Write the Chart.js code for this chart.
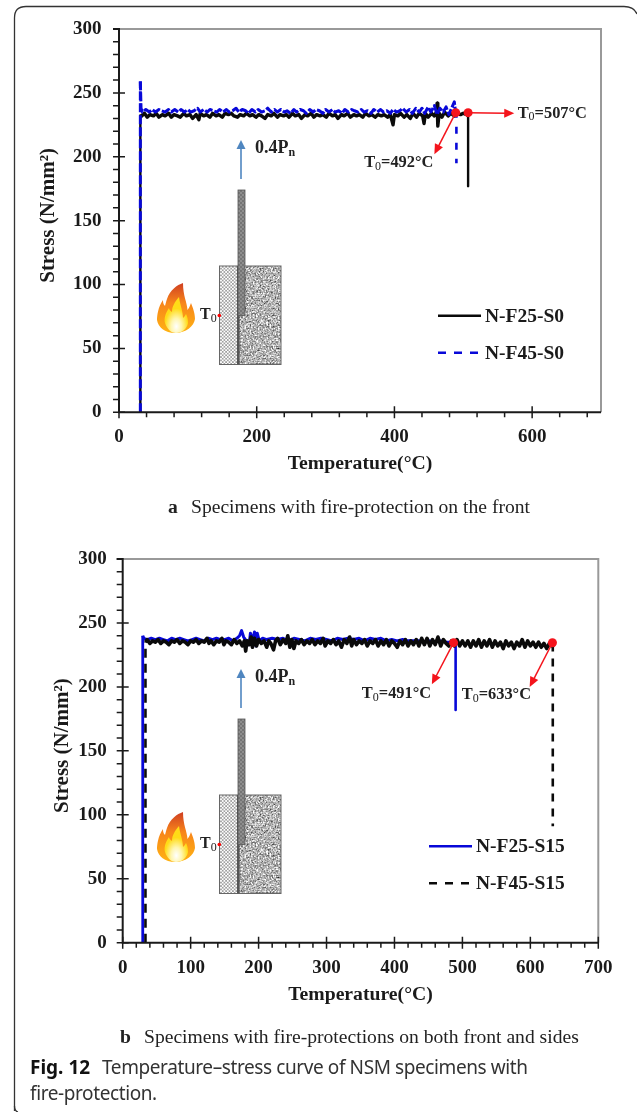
<!DOCTYPE html>
<html>
<head>
<meta charset="utf-8">
<title>Temperature-stress curve</title>
<script src="https://cdn.jsdelivr.net/npm/chart.js@4"></script>
<style>
  html, body { margin: 0; padding: 0; background: #fff; }
  #page { position: relative; width: 637px; height: 1112px; overflow: hidden; }
  canvas { position: absolute; left: 0; }
  #chartA { top: 0; }
  #chartB { top: 530px; }
  #overlay { position: absolute; left: 0; top: 0; }
  .sub { position: absolute; font: 19.6px "Liberation Serif", serif; color: #222; white-space: nowrap; }
  .cap { position: absolute; font: 19px "Noto Sans", sans-serif; color: #333; white-space: nowrap; letter-spacing: -0.4px; }
  .cap b { color: #111; letter-spacing: 0; }
</style>
</head>
<body>
<div id="page">
  <canvas id="chartA" width="637" height="478"></canvas>
  <canvas id="chartB" width="637" height="478"></canvas>

  <svg id="overlay" width="637" height="1112" xmlns="http://www.w3.org/2000/svg">
    <defs>
      <filter id="speckle" x="0" y="0" width="100%" height="100%" color-interpolation-filters="sRGB">
        <feTurbulence type="fractalNoise" baseFrequency="0.6" numOctaves="2" seed="4"/>
        <feColorMatrix type="matrix" values="0.9 0.9 0 0 -0.2  0.9 0.9 0 0 -0.2  0.9 0.9 0 0 -0.2  0 0 0 0 1"/>
      </filter>
      <pattern id="hatch" width="3.4" height="3.4" patternUnits="userSpaceOnUse">
        <rect width="3.4" height="3.4" fill="#fff"/>
        <path d="M0 0L3.4 3.4M3.4 0L0 3.4" stroke="#999" stroke-width="0.8"/>
      </pattern>
      <pattern id="rod" width="4" height="4" patternUnits="userSpaceOnUse">
        <rect width="4" height="4" fill="#757575"/>
        <rect width="2" height="2" fill="#8e8e8e"/>
        <rect x="2" y="2" width="2" height="2" fill="#8e8e8e"/>
      </pattern>
      <linearGradient id="flameOuter" x1="0" y1="0" x2="0" y2="1">
        <stop offset="0" stop-color="#cf3f22"/>
        <stop offset="0.4" stop-color="#f7851a"/>
        <stop offset="1" stop-color="#ffb313"/>
      </linearGradient>
      <radialGradient id="flameCore" cx="0.5" cy="0.82" r="0.5">
        <stop offset="0" stop-color="#fff"/>
        <stop offset="0.45" stop-color="#fff6b0"/>
        <stop offset="1" stop-color="#ffdc17"/>
      </radialGradient>
      <g id="inset">
        <!-- load arrow -->
        <line x1="241" y1="179" x2="241" y2="146" stroke="#4f86c0" stroke-width="1.6"/>
        <path d="M241 140L245.5 149H236.5Z" fill="#4f86c0"/>
        <text x="255" y="153" font-family="Liberation Serif" font-weight="bold" font-size="18" fill="#222">0.4P<tspan font-size="12" dy="3">n</tspan></text>
        <!-- specimen -->
        <rect x="219.5" y="266" width="18" height="98.5" fill="url(#hatch)"/>
        <rect x="238" y="266" width="43" height="98.5" fill="#aaa" filter="url(#speckle)"/>
        <rect x="219.5" y="266" width="61.5" height="98.5" fill="none" stroke="#666" stroke-width="1"/>
        <rect x="237" y="266" width="2.6" height="98.5" fill="#555"/>
        <rect x="238" y="190" width="7" height="125.5" fill="url(#rod)" stroke="#555" stroke-width="0.8"/>
        <text x="200" y="319" font-family="Liberation Serif" font-weight="bold" font-size="16" fill="#222">T<tspan font-size="12" font-weight="normal" dy="3">0</tspan></text>
        <circle cx="219.3" cy="315.5" r="1.8" fill="#f00"/>
        <!-- flame -->
        <path d="M183 283C177 285 170 290 167 299C166 302 165.5 304 165 306C163 304 163 302 163 300C158 307 157 316 157 320C158 327 165 333 175 333C186 333 194 326 195 319C195 312 192 306 191 303C190 306 189 308 187.5 310C187 302 183 296 183 283Z" fill="url(#flameOuter)"/>
        <path d="M179 297C175 302 172 306 172 312C170 311 169 309 169 308C165 314 164 319 165 323C167 329 171 333 176 333C182 333 187 329 188 323C188 319 187 316 186 314C185 316 184 317 183 318C183 311 180 305 179 297Z" fill="url(#flameCore)"/>
      </g>
    </defs>
    <!-- card outline -->
    <path d="M14.5 1111V18Q14.5 6.5 26 6.5H624Q634 6.5 637 14" fill="none" stroke="#333" stroke-width="1.3"/>
    <path d="M14.5 1106Q14.5 1111 18 1112" fill="none" stroke="#333" stroke-width="1.3"/>
    <use href="#inset"/>
    <use href="#inset" y="529"/>
  </svg>

  <div class="sub" style="left:168px;top:496px"><strong>a</strong></div>
  <div class="sub" style="left:191px;top:496px">Specimens with fire-protection on the front</div>
  <div class="sub" style="left:120px;top:1026px"><strong>b</strong></div>
  <div class="sub" style="left:144px;top:1026px">Specimens with fire-protections on both front and sides</div>
  <div class="cap" style="left:30px;top:1054px"><b>Fig. 12</b></div>
  <div class="cap" style="left:102px;top:1054px">Temperature–stress curve of NSM specimens with</div>
  <div class="cap" style="left:30px;top:1080px">fire-protection.</div>
</div>

<script>
// Tick labels
const xTicksA = [0, 200, 400, 600];
const xTicksB = [0, 100, 200, 300, 400, 500, 600, 700];
const yTicks = [0, 50, 100, 150, 200, 250, 300];

// [temperature, stress]
const f25s0 = [[31,0],[31,233],[33,232],[37,234],[41,231],[45,233],[50,232],[54,234],[58,231],[63,233],[67,232],[72,234],[76,231],[80,233],[85,232],[89,231],[94,234],[98,232],[103,233],[107,230],[112,233],[116,229],[118,234],[123,232],[127,233],[132,231],[136,234],[141,232],[145,233],[150,231],[154,234],[159,233],[163,234],[167,232],[172,231],[176,233],[181,232],[185,234],[190,232],[194,233],[199,231],[203,233],[207,232],[212,230],[216,233],[221,232],[225,234],[230,231],[234,233],[239,232],[243,233],[247,231],[252,234],[256,232],[261,233],[265,230],[270,233],[274,232],[279,234],[283,231],[287,233],[292,232],[296,233],[301,231],[305,234],[310,232],[314,233],[318,230],[323,233],[327,232],[332,234],[336,231],[341,233],[345,232],[349,233],[354,231],[358,234],[363,232],[367,233],[372,231],[376,233],[381,232],[385,233],[390,231],[394,233],[398,225],[400,233],[405,232],[409,234],[414,231],[418,233],[423,230],[427,234],[432,231],[436,234],[441,232],[443,226],[445,234],[449,231],[454,234],[458,232],[461,235],[462,242],[463,224],[465,234],[469,231],[473,235],[478,232],[482,234],[487,232],[491,234],[496,233],[500,234],[505,233],[507,232],[507,177]];
const f45s0 = [[31,0],[31,259],[32,238],[34,235],[39,237],[44,235],[48,237],[53,235],[58,237],[62,236],[67,235],[72,237],[76,235],[81,237],[86,235],[90,237],[95,235],[100,237],[104,235],[109,236],[114,238],[118,235],[123,237],[128,235],[132,237],[137,236],[142,235],[146,237],[151,235],[156,237],[160,235],[165,236],[170,238],[174,235],[179,237],[184,236],[188,234],[193,237],[198,235],[202,237],[207,235],[212,236],[216,238],[221,235],[226,237],[230,235],[235,237],[240,235],[244,236],[249,234],[254,237],[258,235],[263,237],[268,236],[272,234],[277,237],[282,235],[286,237],[291,236],[296,234],[300,237],[305,235],[310,237],[314,235],[319,236],[324,234],[328,237],[333,235],[338,237],[342,236],[347,235],[352,237],[356,235],[361,236],[366,234],[370,237],[375,235],[380,237],[384,235],[389,236],[394,234],[398,237],[403,235],[408,236],[412,238],[417,235],[422,237],[426,234],[431,238],[436,235],[440,238],[444,234],[449,239],[453,235],[458,240],[462,233],[466,238],[471,235],[475,239],[479,233],[483,238],[487,243],[489,234],[490,236],[490,195]];

// [temperature, stress]
const f25s15 = [[29.5,0],[29.5,240],[31,238],[36,237],[42,238],[48,237],[54,238],[60,237],[66,236],[72,238],[78,237],[84,238],[90,237],[96,236],[102,237],[108,238],[114,237],[120,236],[126,238],[132,237],[138,238],[144,237],[150,237],[156,238],[162,236],[168,238],[172,240],[175,244],[178,239],[182,236],[186,233],[188,242],[191,236],[194,243],[196,232],[198,242],[201,236],[206,238],[212,237],[220,238],[228,237],[236,238],[244,236],[252,238],[260,237],[268,236],[276,238],[284,237],[292,238],[300,237],[308,236],[316,238],[324,237],[332,238],[340,237],[348,238],[356,236],[364,238],[372,237],[380,238],[388,236],[396,237],[404,236],[412,237],[420,236],[428,236],[436,236],[444,235],[452,236],[460,235],[468,236],[476,235],[484,235],[490,235],[490,182]];
const f45s15 = [[33.5,0],[33.5,235],[36,237],[40,234],[44,236],[48,235],[52,237],[56,234],[60,236],[64,235],[68,233],[72,236],[76,235],[80,237],[84,234],[88,236],[92,235],[96,233],[100,236],[104,235],[108,237],[112,234],[116,236],[120,235],[124,238],[127,234],[130,236],[134,233],[138,236],[142,235],[146,238],[149,233],[152,236],[156,235],[160,233],[164,237],[168,234],[172,236],[176,232],[179,236],[181,228],[183,236],[186,233],[189,239],[191,231],[194,238],[197,232],[200,237],[204,234],[208,236],[212,231],[215,236],[218,234],[222,229],[225,236],[228,238],[232,233],[236,237],[240,234],[243,240],[246,231],[249,237],[252,230],[255,236],[259,234],[263,237],[267,233],[271,236],[275,234],[279,237],[283,233],[287,236],[291,234],[295,238],[298,232],[302,236],[306,234],[310,237],[314,233],[318,236],[322,231],[326,237],[330,234],[334,239],[337,232],[340,237],[344,233],[348,236],[352,234],[356,237],[360,232],[364,236],[368,234],[372,237],[376,232],[380,236],[384,233],[388,237],[392,232],[396,236],[400,234],[404,231],[408,236],[412,233],[416,237],[420,232],[424,236],[428,233],[432,237],[436,232],[440,238],[444,233],[448,238],[452,232],[456,237],[460,233],[464,239],[468,232],[472,237],[476,234],[480,232],[484,236],[488,232],[492,237],[496,232],[500,236],[504,232],[508,236],[512,231],[516,236],[520,232],[524,237],[528,231],[532,236],[536,232],[540,237],[544,231],[548,236],[552,232],[556,235],[560,230],[564,236],[568,232],[572,235],[576,230],[580,235],[584,232],[588,237],[592,231],[596,236],[600,232],[604,235],[608,231],[612,235],[616,231],[620,234],[624,230],[628,234],[632,232],[633,234],[633,91]];

// Onset points and their annotations
const onsetA = [[489, 234.5], [507, 234.5]];
const onsetB = [[487, 234.6], [632.5, 234.5]];
const arrowsA = [[489, 234.5, 458, 202], [507, 234.5, 574, 234]];
const arrowsB = [[487, 234.6, 455, 202], [632.5, 234.5, 599, 200]];
const notesA = [[579, 234, '=507°C'], [356, 195, '=492°C']];
const notesB = [[352, 194.5, '=491°C'], [499, 193.7, '=633°C']];

const SERIF = '"Liberation Serif", serif';
const toPoints = rows => rows.map(r => ({ x: r[0], y: r[1] }));

// Axis frame, minor ticks, arrows, notes and the legend inside the plot
const decorations = {
  id: 'decorations',
  afterDatasetsDraw(chart, args, opts) {
    const { ctx, chartArea: a, scales: { x, y } } = chart;
    ctx.save();

    ctx.strokeStyle = '#999';
    ctx.lineWidth = 2;
    ctx.beginPath();
    ctx.moveTo(a.left, a.top);
    ctx.lineTo(a.right, a.top);
    ctx.lineTo(a.right, a.bottom);
    ctx.stroke();

    ctx.strokeStyle = '#1a1a1a';
    ctx.beginPath();
    ctx.moveTo(a.left - 6, a.top);
    ctx.lineTo(a.left, a.top);
    ctx.lineTo(a.left, a.bottom);
    ctx.lineTo(a.right, a.bottom);
    ctx.stroke();

    ctx.lineWidth = 1.5;
    ctx.beginPath();
    for (let v = 0; v <= x.max; v += opts.minorX) {
      const px = x.getPixelForValue(v);
      const major = x.ticks.some(t => t.value === v);
      ctx.moveTo(px, a.bottom + (major ? 6 : 5));
      ctx.lineTo(px, a.bottom - (major ? 6 : 0));
    }
    for (let v = 0; v <= y.max; v += 10) {
      const py = y.getPixelForValue(v);
      const major = v % 50 === 0;
      ctx.moveTo(a.left - 6, py);
      ctx.lineTo(a.left + (major && v < y.max ? 6 : 0), py);
    }
    ctx.stroke();

    // red arrows
    ctx.strokeStyle = ctx.fillStyle = '#f4141c';
    ctx.lineWidth = 1.5;
    opts.arrows.forEach(([x0, y0, x1, y1]) => {
      const sx = x.getPixelForValue(x0), sy = y.getPixelForValue(y0);
      const ex = x.getPixelForValue(x1), ey = y.getPixelForValue(y1);
      const ang = Math.atan2(ey - sy, ex - sx);
      ctx.beginPath();
      ctx.moveTo(sx, sy);
      ctx.lineTo(ex - 8 * Math.cos(ang), ey - 8 * Math.sin(ang));
      ctx.stroke();
      ctx.beginPath();
      ctx.moveTo(ex, ey);
      ctx.lineTo(ex - 10 * Math.cos(ang) + 4.5 * Math.sin(ang), ey - 10 * Math.sin(ang) - 4.5 * Math.cos(ang));
      ctx.lineTo(ex - 10 * Math.cos(ang) - 4.5 * Math.sin(ang), ey - 10 * Math.sin(ang) + 4.5 * Math.cos(ang));
      ctx.fill();
    });

    // T0 labels
    ctx.fillStyle = '#222';
    ctx.textBaseline = 'middle';
    ctx.textAlign = 'left';
    opts.notes.forEach(([vx, vy, text]) => {
      let px = x.getPixelForValue(vx);
      const py = y.getPixelForValue(vy);
      ctx.font = 'bold 16.4px ' + SERIF;
      ctx.fillText('T', px, py);
      px += ctx.measureText('T').width;
      ctx.font = '12px ' + SERIF;
      ctx.fillText('0', px, py + 4);
      px += ctx.measureText('0').width;
      ctx.font = 'bold 16.4px ' + SERIF;
      ctx.fillText(text, px, py);
    });

    // legend
    opts.legend.forEach((row, i) => {
      const ly = a.top + opts.legendTop + i * 37;
      ctx.strokeStyle = row.color;
      ctx.lineWidth = 2.5;
      ctx.setLineDash(row.dash);
      ctx.beginPath();
      ctx.moveTo(opts.legendLeft, ly);
      ctx.lineTo(opts.legendLeft + 43, ly);
      ctx.stroke();
      ctx.setLineDash([]);
      ctx.fillStyle = '#1a1a1a';
      ctx.font = 'bold 19.5px ' + SERIF;
      ctx.fillText(row.label, opts.legendLeft + 47, ly + 1);
    });
    ctx.restore();
  }
};

function buildChart(id, cfg) {
  return new Chart(document.getElementById(id), {
    type: 'scatter',
    data: { datasets: cfg.datasets },
    options: {
      responsive: false,
      animation: false,
      layout: { padding: { top: 29, left: 0, right: cfg.right, bottom: 0 } },
      elements: { point: { radius: 0 }, line: { tension: 0, borderJoinStyle: 'round' } },
      plugins: {
        legend: { display: false },
        tooltip: { enabled: false },
        decorations: cfg.deco
      },
      scales: {
        x: {
          type: 'linear',
          min: 0,
          max: 700,
          grid: { display: false },
          border: { display: false },
          afterBuildTicks: s => { s.ticks = cfg.xTicks.map(v => ({ value: v })); },
          afterFit: s => { s.height = cfg.xHeight; },
          ticks: { color: '#1a1a1a', padding: cfg.xTickPad, maxRotation: 0, autoSkip: false, font: { family: SERIF, size: 19, weight: 'bold' } },
          title: { display: true, text: 'Temperature(°C)', color: '#1a1a1a', padding: { top: 0, bottom: cfg.xTitlePad }, font: { family: SERIF, size: 19.7, weight: 'bold' } }
        },
        y: {
          type: 'linear',
          min: 0,
          max: 300,
          grid: { display: false },
          border: { display: false },
          afterBuildTicks: s => { s.ticks = yTicks.map(v => ({ value: v })); },
          afterFit: s => { s.width = cfg.yWidth; },
          ticks: { color: '#1a1a1a', padding: cfg.yTickPad, autoSkip: false, font: { family: SERIF, size: 19, weight: 'bold' } },
          // the leading spaces nudge the rotated title up a little, as in the figure
          title: { display: true, text: '  Stress (N/mm²)', color: '#1a1a1a', padding: { top: cfg.titleLeft, bottom: 0 }, font: { family: SERIF, size: 21, weight: 'bold' } }
        }
      }
    },
    plugins: [decorations]
  });
}

const onsetDots = rows => ({
  label: 'T0', data: toPoints(rows), showLine: false, order: 0,
  pointRadius: 4.5, pointBackgroundColor: '#f4141c', pointBorderWidth: 0
});

// A curve is the rise, the noisy plateau and the drop, each with its own stroke
function curve(label, rows, color, order, rise, plateau, drop) {
  const part = (data, s) => ({
    label, data: toPoints(data), showLine: true, order,
    borderColor: color, borderWidth: s.width, borderDash: s.dash
  });
  return [
    part(rows.slice(0, 2), rise),
    part(rows.slice(1, -1), plateau),
    part(rows.slice(-2), drop)
  ];
}

buildChart('chartA', {
  right: 36,
  xHeight: 65.7,
  yWidth: 119,
  titleLeft: 36,
  xTickPad: 5,
  yTickPad: 9.5,
  xTitlePad: 2,
  xTicks: xTicksA,
  deco: {
    minorX: 40, arrows: arrowsA, notes: notesA, legendLeft: 438, legendTop: 286.7,
    legend: [
      { label: 'N-F25-S0', color: '#0a0a0a', dash: [] },
      { label: 'N-F45-S0', color: '#0808d8', dash: [8, 8] }
    ]
  },
  datasets: [
    onsetDots(onsetA),
    ...curve('N-F25-S0', f25s0, '#0a0a0a', 2, { width: 2.4, dash: [] }, { width: 3.4, dash: [] }, { width: 2.4, dash: [] }),
    ...curve('N-F45-S0', f45s0, '#0808d8', 1, { width: 3, dash: [9, 3] }, { width: 3, dash: [9, 2] }, { width: 2.6, dash: [7, 9] })
  ]
});

buildChart('chartB', {
  right: 38.7,
  xHeight: 65.3,
  yWidth: 122.7,
  titleLeft: 50,
  xTickPad: 6,
  yTickPad: 8,
  xTitlePad: 1,
  xTicks: xTicksB,
  deco: {
    minorX: 20, arrows: arrowsB, notes: notesB, legendLeft: 429, legendTop: 287.3,
    legend: [
      { label: 'N-F25-S15', color: '#0808d8', dash: [] },
      { label: 'N-F45-S15', color: '#0a0a0a', dash: [8, 8] }
    ]
  },
  datasets: [
    onsetDots(onsetB),
    ...curve('N-F25-S15', f25s15, '#0808d8', 2, { width: 2.8, dash: [] }, { width: 3, dash: [] }, { width: 2.6, dash: [] }),
    ...curve('N-F45-S15', f45s15, '#0a0a0a', 1, { width: 2.6, dash: [9, 6] }, { width: 3.6, dash: [] }, { width: 2.6, dash: [8, 7] })
  ]
});
</script>
</body>
</html>
